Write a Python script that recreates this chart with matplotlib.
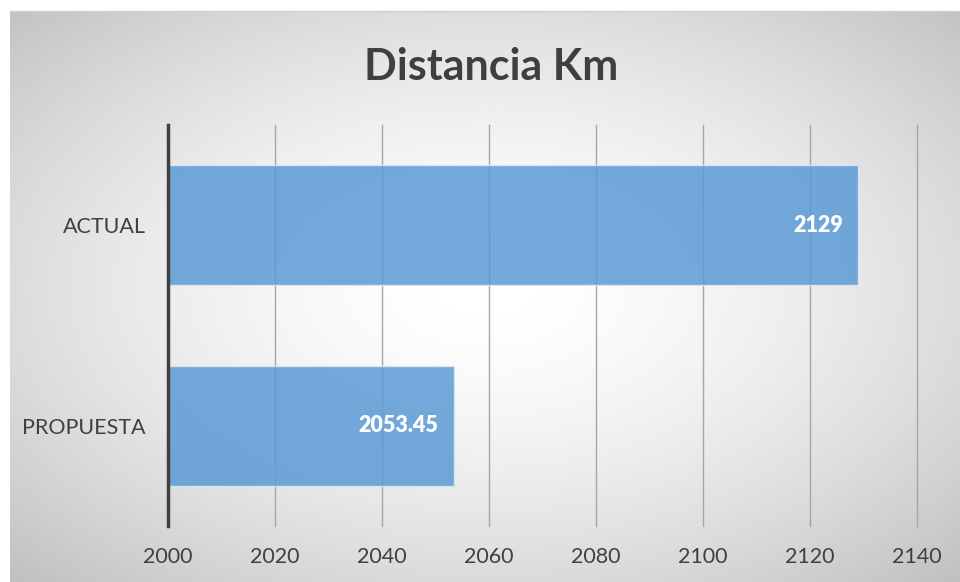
import matplotlib.pyplot as plt
import numpy as np

# Data
categories = ["PROPUESTA", "ACTUAL"]
distances = [2053.45, 2129]
value_labels = ["2053.45", "2129"]
x_ticks = [2000, 2020, 2040, 2060, 2080, 2100, 2120, 2140]

plt.rcParams["font.family"] = ["Lato", "DejaVu Sans"]
text_color = "#404040"

W, H = 960, 582
fig = plt.figure(figsize=(W / 100, H / 100), dpi=100)
fig.patch.set_facecolor("white")

# Radial gray gradient background (chart area)
bg = fig.add_axes([10 / W, 0, (W - 10) / W, (H - 11) / H], zorder=-5)
yy, xx = np.mgrid[0:300, 0:500]
cx, cy = 250, 145
d = np.sqrt(((xx - cx) / 250) ** 2 + ((yy - cy) / 150) ** 2) / np.sqrt(2)
gray = (255 - 62 * np.clip(d, 0, 1) ** 1.6) / 255
bg.imshow(gray, cmap="gray", vmin=0, vmax=1, aspect="auto", interpolation="bilinear")
bg.axis("off")
fig.add_artist(plt.Line2D([10 / W, 1], [(H - 11) / H] * 2, color="#d0d0d0", lw=1))

# Main axes
ax = fig.add_axes([168 / W, 56 / H, (917 - 168) / W, 401 / H])
ax.patch.set_alpha(0)

y = np.arange(len(categories))
bars = ax.barh(y, distances, height=0.6, left=0, color="#5b9bd5", alpha=0.85,
               edgecolor="#dde9f5", linewidth=1, zorder=3)

ax.set_xlim(2000, 2140)
ax.set_ylim(-0.5, 1.5)
ax.set_xticks(x_ticks)
ax.set_yticks(y)
ax.set_yticklabels(categories)
ax.tick_params(axis="both", length=0, labelsize=15.5, colors=text_color)
ax.tick_params(axis="x", pad=15)
ax.tick_params(axis="y", pad=16)

ax.grid(axis="x", color="#a6a6a6", linewidth=1, zorder=1)
for line in ax.get_xgridlines():
    line.set_clip_on(False)
for side in ["top", "right", "bottom"]:
    ax.spines[side].set_visible(False)
ax.spines["left"].set_color(text_color)
ax.spines["left"].set_linewidth(2.5)
ax.spines["left"].set_zorder(4)

for yi, val, lab in zip(y, distances, value_labels):
    ax.annotate(lab, xy=(val, yi), xytext=(-11, 0), textcoords="offset points",
                ha="right", va="center", color="white", fontsize=15.5,
                fontweight="heavy", zorder=5)

fig.text(491 / W, 1 - 67 / H, "Distancia Km", ha="center", va="center",
         fontsize=31, fontweight="bold", color="#3f3f3f")

fig.savefig("out.png", dpi=100)
